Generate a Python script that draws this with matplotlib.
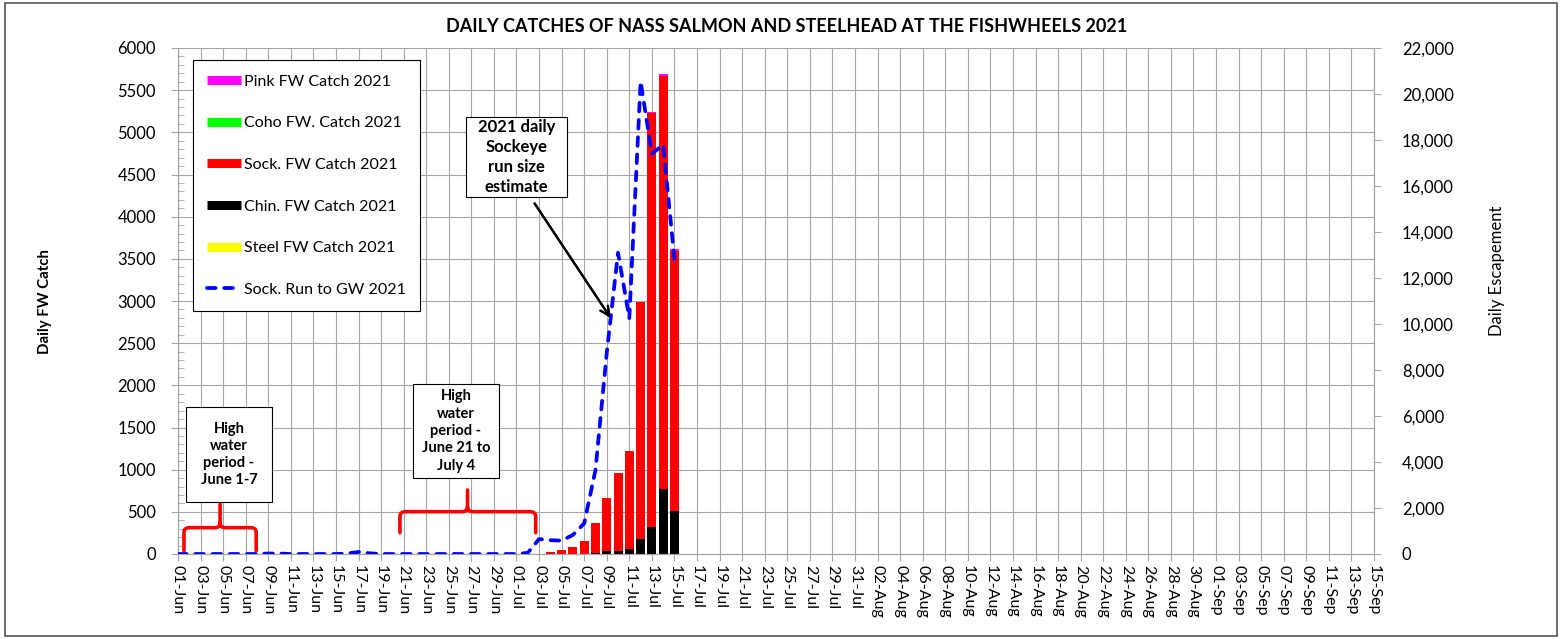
import numpy as np
import pandas as pd
import matplotlib.pyplot as plt
from matplotlib.lines import Line2D
from matplotlib.patches import Rectangle, PathPatch
from matplotlib.path import Path
from matplotlib.ticker import MultipleLocator, FuncFormatter

plt.rcParams['font.family'] = ['Lato', 'DejaVu Sans']

# data
season_start = '2021-06-01'
season_end = '2021-09-15'

catch_dates = pd.date_range('2021-07-03', '2021-07-15', freq='D')
steel_catch = [0, 0, 0, 0, 0, 0, 0, 0, 0, 0, 0, 0, 0]
chin_catch = [0, 0, 2, 2, 4, 10, 35, 40, 63, 174, 316, 775, 514]
sock_catch = [5, 25, 45, 85, 150, 362, 633, 925, 1158, 2819, 4916, 4889, 3079]
coho_catch = [0, 0, 0, 0, 0, 0, 0, 0, 0, 0, 0, 0, 0]
pink_catch = [0, 0, 0, 0, 0, 0, 0, 0, 5, 0, 15, 30, 25]

run_dates = pd.date_range('2021-06-01', '2021-07-15', freq='D')
sock_run = [0, 0, 0, 0, 0, 0, 0, 0, 20, 20,          # Jun 1-10
            0, 0, 0, 0, 0, 20, 90, 30, 0, 0,         # Jun 11-20
            0, 0, 0, 0, 0, 0, 0, 0, 0, 0,            # Jun 21-30
            0, 50, 650, 600, 580, 830, 1330, 3650,   # Jul 1-8
            8750, 13100, 10250, 20550, 17400, 17800, 12800]  # Jul 9-15

left_ticks = np.arange(0, 6001, 500)
right_ticks = np.arange(0, 22001, 2000)

W, H = 1568, 639
days = pd.date_range(season_start, season_end, freq='D')
xc = (catch_dates - days[0]).days.values
xr = (run_dates - days[0]).days.values

fig = plt.figure(figsize=(W / 100, H / 100), dpi=100)
ax = fig.add_axes([178 / W, 1 - 554 / H, (1374 - 178) / W, (554 - 48) / H])
ax2 = ax.twinx()

grid_c = '#a6a6a6'

# stacked bars, bottom to top
bottom = np.zeros(len(xc))
for vals, col in [(steel_catch, '#ffff00'), (chin_catch, '#000000'), (sock_catch, '#ff0000'),
                  (coho_catch, '#00ff00'), (pink_catch, '#ff00ff')]:
    ax.bar(xc, vals, width=0.8, bottom=bottom, color=col, zorder=3, linewidth=0)
    bottom += np.array(vals)

ax2.plot(xr, sock_run, color='#0000ff', lw=2.7, dashes=(2.3, 2.3),
         dash_capstyle='round', zorder=4)

ax.set_xlim(0, len(days) - 1)
ax.set_ylim(0, 6000)
ax2.set_ylim(0, 22000)

ax.set_xticks(np.arange(0, len(days), 2))
ax.set_xticklabels(days[::2].strftime('%d-%b'), rotation=-90, fontsize=11.5)
ax.set_yticks(left_ticks)
ax.yaxis.set_minor_locator(MultipleLocator(100))
ax.tick_params(axis='y', which='major', labelsize=12, length=5, color=grid_c, direction='out', pad=11)
ax.tick_params(axis='y', which='minor', length=4, color=grid_c, direction='in')
ax.tick_params(axis='x', length=5, color=grid_c, direction='out', pad=3)
ax.grid(True, color=grid_c, lw=0.8, zorder=0)
ax.set_axisbelow(True)

ax2.set_yticks(right_ticks)
ax2.yaxis.set_major_formatter(FuncFormatter(lambda v, p: f'{int(v):,}'))
ax2.tick_params(axis='y', labelsize=12, length=5, color=grid_c, direction='out', pad=15)

for a in (ax, ax2):
    for s in a.spines.values():
        s.set_color(grid_c)
        s.set_linewidth(0.8)
    a.spines['top'].set_visible(False)

fig.text(45 / W, 1 - 301 / H, 'Daily FW Catch', rotation=90, ha='center', va='center',
         fontsize=10.8, fontweight='bold')
fig.text(1497 / W, 1 - 271 / H, 'Daily Escapement', rotation=90, ha='center', va='center',
         fontsize=12)
fig.text(787 / W, 1 - 27 / H, 'DAILY CATCHES OF NASS SALMON AND STEELHEAD AT THE FISHWHEELS 2021',
         ha='center', va='center', fontsize=13, fontweight='bold')

# legend
handles = [Line2D([], [], color='#ff00ff', lw=6.5, solid_capstyle='butt'),
           Line2D([], [], color='#00ff00', lw=6.5, solid_capstyle='butt'),
           Line2D([], [], color='#ff0000', lw=6.5, solid_capstyle='butt'),
           Line2D([], [], color='#000000', lw=6.5, solid_capstyle='butt'),
           Line2D([], [], color='#ffff00', lw=6.5, solid_capstyle='butt'),
           Line2D([], [], color='#0000ff', lw=2.7, dashes=(2.3, 2.3), dash_capstyle='round')]
labels = ['Pink FW Catch 2021', 'Coho FW. Catch 2021', 'Sock. FW Catch 2021',
          'Chin. FW Catch 2021', 'Steel FW Catch 2021', 'Sock. Run to GW 2021']
leg = ax2.legend(handles, labels, loc='upper left', bbox_to_anchor=(0.0125, 0.976),
                 borderaxespad=0, fontsize=11.5, handlelength=2.1, handletextpad=0.2,
                 labelspacing=1.72, borderpad=0.9, fancybox=False, framealpha=1,
                 edgecolor='black')
leg.get_frame().set_linewidth(0.8)
leg.set_zorder(10)


# red braces for the high water periods
def brace(x0, x1, xm, ybot, yh, ypk, rx=0.5, ry=55):
    verts = [(x0, ybot), (x0, yh - ry), (x0, yh), (x0 + rx, yh),
             (xm - rx, yh), (xm, yh), (xm, yh + ry), (xm, ypk),
             (xm, yh + ry), (xm, yh), (xm + rx, yh),
             (x1 - rx, yh), (x1, yh), (x1, yh - ry), (x1, ybot)]
    codes = [Path.MOVETO, Path.LINETO, Path.CURVE3, Path.CURVE3,
             Path.LINETO, Path.CURVE3, Path.CURVE3, Path.LINETO,
             Path.MOVETO, Path.CURVE3, Path.CURVE3,
             Path.LINETO, Path.CURVE3, Path.CURVE3, Path.LINETO]
    ax.add_patch(PathPatch(Path(verts, codes), fill=False, edgecolor='#ff0000', lw=2.6,
                           capstyle='round', joinstyle='round', zorder=5))


brace(0.53, 6.93, 3.73, 39, 312, 593)
brace(19.67, 31.7, 25.66, 253, 502, 759)


def note_box(x0, y0, x1, y1, txt, size, spacing):
    fig.patches.append(Rectangle((x0 / W, 1 - y1 / H), (x1 - x0) / W, (y1 - y0) / H,
                                 transform=fig.transFigure, facecolor='white',
                                 edgecolor='black', lw=0.8, zorder=20))
    fig.text((x0 + x1) / 2 / W, 1 - (y0 + y1) / 2 / H, txt, ha='center', va='center',
             multialignment='center', fontsize=size, fontweight='bold',
             linespacing=spacing, zorder=21)


note_box(186, 407, 272, 502, 'High\nwater\nperiod -\nJune 1-7', 10.5, 1.3)
note_box(413, 384, 499, 478, 'High\nwater\nperiod -\nJune 21 to\nJuly 4', 10.5, 1.3)
note_box(466, 117, 567, 197, '2021 daily\nSockeye\nrun size\nestimate', 12, 1.3)

fig.add_artist(plt.annotate('', xy=(612 / W, 1 - 320 / H), xytext=(533 / W, 1 - 201 / H),
                            xycoords='figure fraction', textcoords='figure fraction',
                            arrowprops=dict(arrowstyle='->', color='black', lw=1.6,
                                            mutation_scale=16)))

fig.patches.append(Rectangle((5 / W, 3 / H), (1557 - 5) / W, (636 - 3) / H,
                             transform=fig.transFigure, fill=False, edgecolor='#555555',
                             lw=1.2))

fig.savefig('out.png', dpi=100)
